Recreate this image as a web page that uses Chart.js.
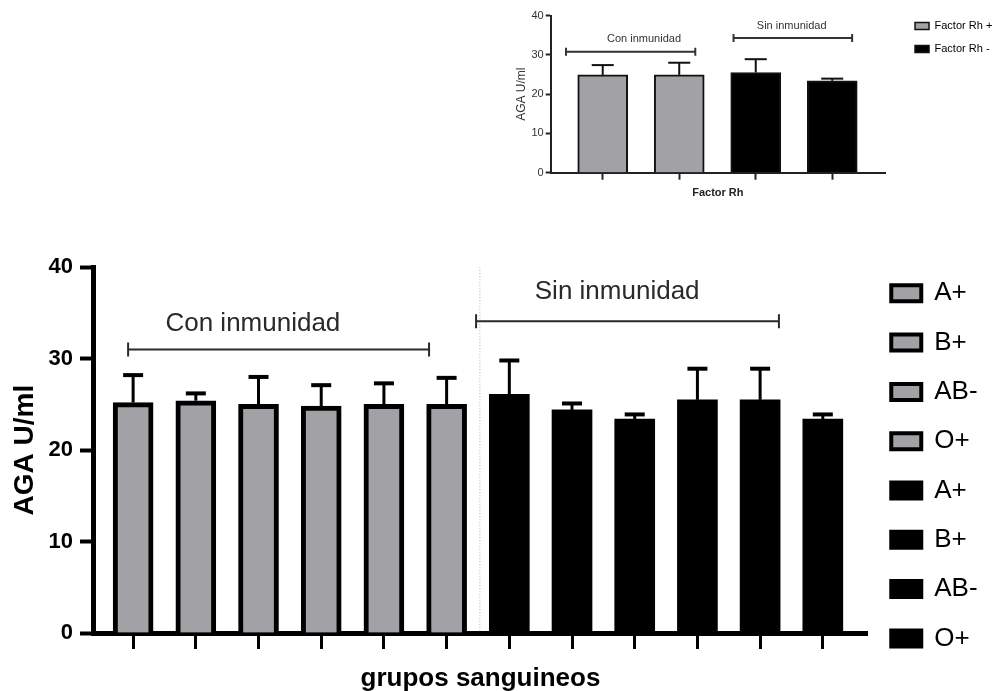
<!DOCTYPE html>
<html>
<head>
<meta charset="utf-8">
<script src="https://cdn.jsdelivr.net/npm/chart.js@4.4.0/dist/chart.umd.min.js"></script>
<style>
  body { margin: 0; background: #fff; width: 998px; height: 691px; overflow: hidden; position: relative; }
  canvas { position: absolute; }
  #inset { left: 350px; top: 7px; }
  #main { left: 0; top: 247px; }
</style>
</head>
<body>
<canvas id="inset" width="700" height="200"></canvas>
<canvas id="main" width="998" height="447"></canvas>
<script>
// grafico principal: AGA por grupo sanguineo
const grupos = ['Con inmunidad', 'Sin inmunidad'];
const conMedia = [25.2, 25.4, 25.0, 24.8, 25.0, 25.0];
const conError = [3.0, 0.8, 3.0, 2.3, 2.3, 2.9];
const sinMedia = [26.1, 24.4, 23.4, 25.5, 25.5, 23.4];
const sinError = [3.7, 0.7, 0.5, 3.4, 3.4, 0.5];
const leyenda = ['A+', 'B+', 'AB-', 'O+', 'A+', 'B+', 'AB-', 'O+'];
const yTicks = [0, 10, 20, 30, 40];

// grafico chico: factor Rh
const rhGrupo = [0, 0, 1, 1];
const rhMedia = [24.9, 24.9, 25.5, 23.4];
const rhError = [2.5, 3.1, 3.4, 0.55];
const rhLeyenda = ['Factor Rh +', 'Factor Rh -'];

const GRIS = '#a2a1a6';
const NEGRO = '#000000';

Chart.defaults.font.family = "'Liberation Sans', Arial, sans-serif";

const bracketPlugin = {
  id: 'brackets',
  beforeDatasetsDraw(chart, args, opts) {
    const {ctx, scales: {x, y}} = chart;
    ctx.save();
    if (opts.divider != null) {
      const px = x.getPixelForValue(opts.divider);
      ctx.strokeStyle = '#b0b0b0';
      ctx.lineWidth = 1;
      ctx.setLineDash([1, 2]);
      ctx.beginPath();
      ctx.moveTo(px, y.getPixelForValue(y.max));
      ctx.lineTo(px, y.getPixelForValue(0));
      ctx.stroke();
      ctx.setLineDash([]);
    }
    opts.items.forEach(b => {
      const x0 = x.getPixelForValue(b.from);
      const x1 = x.getPixelForValue(b.to);
      const py = y.getPixelForValue(b.y);
      ctx.strokeStyle = opts.color;
      ctx.lineWidth = opts.lineWidth;
      ctx.beginPath();
      ctx.moveTo(x0, py); ctx.lineTo(x1, py);
      ctx.moveTo(x0, py - opts.tick); ctx.lineTo(x0, py + opts.tick);
      ctx.moveTo(x1, py - opts.tick); ctx.lineTo(x1, py + opts.tick);
      ctx.stroke();
      ctx.fillStyle = opts.color;
      ctx.font = opts.font;
      ctx.textAlign = 'center';
      ctx.textBaseline = 'middle';
      ctx.fillText(b.text, x.getPixelForValue(b.textX), y.getPixelForValue(b.textY));
    });
    ctx.restore();
  }
};

const errorBarPlugin = {
  id: 'errorBars',
  afterDatasetsDraw(chart, args, opts) {
    const {ctx, scales: {y}} = chart;
    ctx.save();
    ctx.strokeStyle = opts.color;
    chart.data.datasets.forEach((ds, di) => {
      chart.getDatasetMeta(di).data.forEach((bar, i) => {
        const top = y.getPixelForValue(ds.data[i].y + ds.errores[i]);
        ctx.lineWidth = opts.stemWidth;
        ctx.beginPath();
        ctx.moveTo(bar.x, bar.y);
        ctx.lineTo(bar.x, top);
        ctx.stroke();
        ctx.lineWidth = opts.capWidth;
        ctx.beginPath();
        ctx.moveTo(bar.x - opts.capHalf, top);
        ctx.lineTo(bar.x + opts.capHalf, top);
        ctx.stroke();
      });
    });
    ctx.restore();
  }
};

const mainMedia = conMedia.concat(sinMedia);
const mainError = conError.concat(sinError);
const esCon = mainMedia.map((v, i) => i < conMedia.length);

new Chart(document.getElementById('main'), {
  type: 'bar',
  data: {
    datasets: [{
      data: mainMedia.map((v, i) => ({x: i, y: v})),
      errores: mainError,
      backgroundColor: esCon.map(c => c ? GRIS : NEGRO),
      borderColor: NEGRO,
      borderWidth: esCon.map(c => c ? 5 : 0),
      barThickness: 40
    }]
  },
  options: {
    responsive: false,
    animation: false,
    devicePixelRatio: 1,
    events: [],
    layout: {padding: {top: 10, right: 10.4, bottom: 0, left: 0}},
    scales: {
      x: {
        type: 'linear',
        offset: false,
        min: -0.64,
        max: 11.72,
        afterBuildTicks: s => { s.ticks = mainMedia.map((v, i) => ({value: i})); },
        afterFit: s => { s.height = 61; },
        grid: {offset: false, drawOnChartArea: false, tickLength: 16, tickWidth: 3, tickColor: NEGRO},
        border: {color: NEGRO, width: 5},
        ticks: {display: false},
        title: {display: true, text: 'grupos sanguineos', color: NEGRO,
                font: {size: 26, weight: 'bold'}, padding: {top: 0, bottom: 0}}
      },
      y: {
        min: 0,
        max: 40,
        afterBuildTicks: s => { s.ticks = yTicks.map(v => ({value: v})); },
        afterFit: s => { s.width = 93; },
        grid: {drawOnChartArea: false, tickLength: 13, tickWidth: 4, tickColor: NEGRO},
        border: {color: NEGRO, width: 5},
        ticks: {padding: 7, color: NEGRO, font: {size: 22, weight: 'bold'}},
        title: {display: true, text: 'AGA U/ml', color: NEGRO,
                font: {size: 28, weight: 'bold'}, padding: {top: 8, bottom: 0}}
      }
    },
    plugins: {
      tooltip: {enabled: false},
      legend: {
        position: 'right',
        align: 'start',
        onClick: null,
        labels: {
          boxWidth: 30,
          boxHeight: 16,
          padding: 23.3,
          color: NEGRO,
          font: {size: 26},
          generateLabels: () => leyenda.map((t, i) => ({
            text: t,
            fillStyle: i < 4 ? GRIS : NEGRO,
            strokeStyle: NEGRO,
            lineWidth: 4,
            hidden: false
          }))
        }
      },
      brackets: {
        color: '#2a2a2a', lineWidth: 2, tick: 7,
        font: "26px 'Liberation Sans', Arial, sans-serif",
        divider: 5.53,
        items: [
          {text: grupos[0], from: -0.08, to: 4.72, y: 31.0, textX: 1.91, textY: 33.8},
          {text: grupos[1], from: 5.47, to: 10.3, y: 34.1, textX: 7.72, textY: 37.3}
        ]
      },
      errorBars: {color: NEGRO, stemWidth: 3, capWidth: 4, capHalf: 10}
    }
  },
  plugins: [bracketPlugin, errorBarPlugin]
});

new Chart(document.getElementById('inset'), {
  type: 'bar',
  data: {
    datasets: [{
      data: rhMedia.map((v, i) => ({x: i, y: v})),
      errores: rhError,
      backgroundColor: rhGrupo.map(g => g === 0 ? GRIS : NEGRO),
      borderColor: '#111',
      borderWidth: 2,
      barThickness: 50
    }]
  },
  options: {
    responsive: false,
    animation: false,
    devicePixelRatio: 1,
    events: [],
    layout: {padding: {top: 1.5, right: 47.7, bottom: 0, left: 0}},
    scales: {
      x: {
        type: 'linear',
        offset: false,
        min: -0.68,
        max: 3.69,
        afterBuildTicks: s => { s.ticks = rhMedia.map((v, i) => ({value: i})); },
        afterFit: s => { s.height = 34.3; },
        grid: {offset: false, drawOnChartArea: false, tickLength: 7, tickWidth: 2, tickColor: '#222'},
        border: {color: '#222', width: 2},
        ticks: {display: false},
        title: {display: true, text: 'Factor Rh', color: '#222',
                font: {size: 11, weight: 'bold'}, padding: {top: 0, bottom: 7.4}}
      },
      y: {
        min: 0,
        max: 40,
        afterBuildTicks: s => { s.ticks = yTicks.map(v => ({value: v})); },
        afterFit: s => { s.width = 200.7; },
        grid: {drawOnChartArea: false, tickLength: 5, tickWidth: 2, tickColor: '#222'},
        border: {color: '#222', width: 2},
        ticks: {padding: 2, color: '#333', font: {size: 11}},
        title: {display: true, text: 'AGA U/ml', color: '#333',
                font: {size: 12}, padding: {top: 164.8, bottom: 0}}
      },
      relleno: {
        type: 'linear',
        position: 'right',
        display: true,
        afterFit: s => { s.width = 18; },
        grid: {display: false},
        border: {display: false},
        ticks: {display: false}
      }
    },
    plugins: {
      tooltip: {enabled: false},
      legend: {
        position: 'right',
        align: 'start',
        onClick: null,
        labels: {
          boxWidth: 14,
          boxHeight: 7,
          padding: 12,
          color: '#333',
          font: {size: 11},
          generateLabels: () => rhLeyenda.map((t, i) => ({
            text: t,
            fillStyle: i === 0 ? GRIS : NEGRO,
            strokeStyle: '#111',
            lineWidth: 1.5,
            hidden: false
          }))
        }
      },
      brackets: {
        color: '#333', lineWidth: 2, tick: 4,
        font: "11px 'Liberation Sans', Arial, sans-serif",
        items: [
          {text: grupos[0], from: -0.48, to: 1.21, y: 30.8, textX: 0.54, textY: 34.1},
          {text: grupos[1], from: 1.71, to: 3.26, y: 34.3, textX: 2.47, textY: 37.4}
        ]
      },
      errorBars: {color: '#111', stemWidth: 2, capWidth: 2, capHalf: 11}
    }
  },
  plugins: [bracketPlugin, errorBarPlugin]
});
</script>
</body>
</html>
